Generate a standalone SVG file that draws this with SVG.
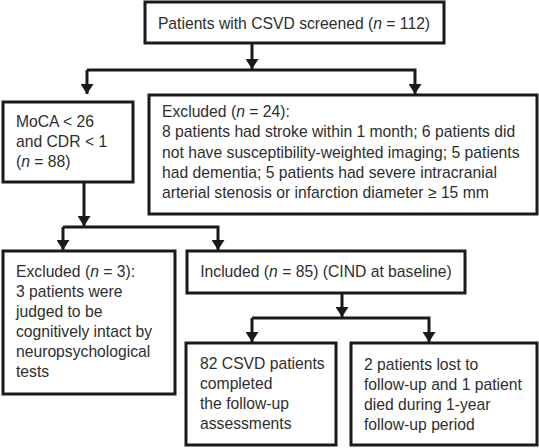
<svg xmlns="http://www.w3.org/2000/svg" width="539" height="448" viewBox="0 0 539 448">
<style>
.box{fill:#fff;stroke:#1a1a1a;stroke-width:3}
.t{font-family:"Liberation Sans",Arial,sans-serif;font-size:15.7px;fill:#2e2e2e}
.c{text-anchor:middle}
.ln{fill:none;stroke:#1a1a1a;stroke-width:3}
</style>
<defs>
<marker id="ah" viewBox="0 0 10 13" refX="10" refY="6.5" markerWidth="10" markerHeight="13" markerUnits="userSpaceOnUse" orient="auto">
<path d="M0,0 L10,6.5 L0,13 Z" fill="#1a1a1a"/>
</marker>
</defs>
<rect width="539" height="448" fill="#fff"/>
<g id="connectors">
<path class="ln" d="M252,43 V69" marker-end="url(#ah)"/>
<path class="ln" d="M87,70 V94" marker-end="url(#ah)"/>
<path class="ln" d="M87,70 H415 V94" marker-end="url(#ah)"/>
<path class="ln" d="M84,182 V226" marker-end="url(#ah)"/>
<path class="ln" d="M63,227 V250" marker-end="url(#ah)"/>
<path class="ln" d="M63,227 H218 V250" marker-end="url(#ah)"/>
<path class="ln" d="M342,293 V317" marker-end="url(#ah)"/>
<path class="ln" d="M252,318 V342" marker-end="url(#ah)"/>
<path class="ln" d="M252,318 H429 V342" marker-end="url(#ah)"/>
</g>
<g id="screened">
<rect class="box" x="145" y="2" width="299" height="41"/>
<text class="t c" x="294" y="29">Patients with CSVD screened (<tspan font-style="italic">n</tspan> = 112)</text>
</g>
<g id="moca">
<rect class="box" x="3" y="102" width="130" height="80"/>
<text class="t" x="16" y="127">MoCA &lt; 26</text>
<text class="t" x="16" y="147">and CDR &lt; 1</text>
<text class="t" x="16" y="167">(<tspan font-style="italic">n</tspan> = 88)</text>
</g>
<g id="excluded24">
<rect class="box" x="149" y="95" width="388" height="119"/>
<text class="t" x="162" y="117">Excluded (<tspan font-style="italic">n</tspan> = 24):</text>
<text class="t" x="162" y="137">8 patients had stroke within 1 month; 6 patients did</text>
<text class="t" x="162" y="158">not have susceptibility-weighted imaging; 5 patients</text>
<text class="t" x="162" y="178">had dementia; 5 patients had severe intracranial</text>
<text class="t" x="162" y="198">arterial stenosis or infarction diameter ≥ 15 mm</text>
</g>
<g id="excluded3">
<rect class="box" x="3" y="251" width="172" height="143"/>
<text class="t" x="16" y="277">Excluded (<tspan font-style="italic">n</tspan> = 3):</text>
<text class="t" x="16" y="297">3 patients were</text>
<text class="t" x="16" y="317">judged to be</text>
<text class="t" x="16" y="337">cognitively intact by</text>
<text class="t" x="16" y="357">neuropsychological</text>
<text class="t" x="16" y="377">tests</text>
</g>
<g id="included">
<rect class="box" x="187" y="251" width="278" height="42"/>
<text class="t c" x="326" y="277">Included (<tspan font-style="italic">n</tspan> = 85) (CIND at baseline)</text>
</g>
<g id="completed">
<rect class="box" x="186" y="343" width="150" height="102"/>
<text class="t" x="200" y="369">82 CSVD patients</text>
<text class="t" x="200" y="389">completed</text>
<text class="t" x="200" y="409">the follow-up</text>
<text class="t" x="200" y="429">assessments</text>
</g>
<g id="lost">
<rect class="box" x="351" y="343" width="186" height="102"/>
<text class="t" x="364" y="370">2 patients lost to</text>
<text class="t" x="364" y="390">follow-up and 1 patient</text>
<text class="t" x="364" y="410">died during 1-year</text>
<text class="t" x="364" y="430">follow-up period</text>
</g>
</svg>
